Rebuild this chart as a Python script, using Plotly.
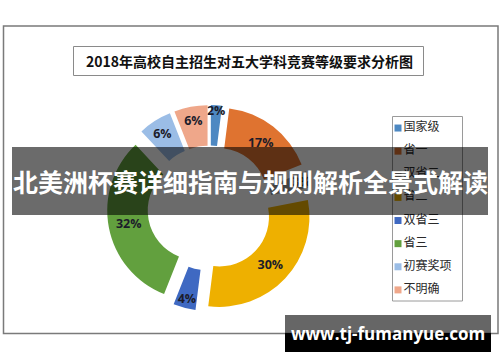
import plotly.graph_objects as go

# ---- data ----
categories = ["国家级", "省一", "双省二", "省二", "双省三", "省三", "初赛奖项", "不明确"]
shares = [2, 17, 3, 30, 4, 32, 6, 6]
colors = ["#4d88c2", "#df7330", "#a0a0a0", "#eeb000", "#3f69c2", "#62a03e", "#9bbde6", "#efa78a"]
chart_title = "2018年高校自主招生对五大学科竞赛等级要求分析图"
banner_text = "北美洲杯赛详细指南与规则解析全景式解读"
watermark = "www.tj-fumanyue.com"

W, H = 500, 362
def px_x(x):
    return x / W
def px_y(y):
    return 1 - y / H

fig = go.Figure()

fig.add_trace(go.Pie(
    labels=categories,
    values=shares,
    sort=False,
    direction="clockwise",
    rotation=0,
    hole=0.55,
    pull=[0.145] * len(shares),
    marker=dict(colors=colors, line=dict(width=0)),
    texttemplate="%{percent:.0%}",
    textposition="inside",
    insidetextorientation="horizontal",
    textfont=dict(family="Open Sans", size=12.5, color="#1c1c2a", weight="bold"),
    showlegend=False,
    hoverinfo="label+percent",
    domain=dict(x=[px_x(107), px_x(313)], y=[px_y(311), px_y(105)]),
))

# legend built as a scatter on hidden axes
legend_idx = list(range(len(categories)))
fig.add_trace(go.Scatter(
    x=[6] * len(categories),
    y=legend_idx,
    mode="markers+text",
    marker=dict(symbol="square", size=7, color=colors),
    text=categories,
    textposition="middle right",
    textfont=dict(family="Noto Sans CJK SC", size=12, color="#2a2a2a"),
    showlegend=False,
    hoverinfo="skip",
    cliponaxis=False,
))

fig.update_layout(
    width=W, height=H,
    margin=dict(l=0, r=0, t=0, b=0),
    paper_bgcolor="white",
    plot_bgcolor="rgba(0,0,0,0)",
    xaxis=dict(domain=[px_x(392), px_x(462)], range=[0, 70], visible=False, fixedrange=True),
    yaxis=dict(domain=[px_y(301), px_y(116)], range=[7.48, -0.52], visible=False, fixedrange=True),
    uniformtext=dict(minsize=12.5, mode="show"),
    shapes=[
        # outer frame
        dict(type="rect", xref="paper", yref="paper", x0=px_x(3.5), x1=px_x(498), y0=px_y(333.5), y1=px_y(26),
             line=dict(color="#7a7a7a", width=1.5), fillcolor="rgba(0,0,0,0)", layer="below"),
        # title box
        dict(type="rect", xref="paper", yref="paper", x0=px_x(73.5), x1=px_x(423.5), y0=px_y(75.5), y1=px_y(46.5),
             line=dict(color="#8a8a8a", width=1), fillcolor="rgba(0,0,0,0)", layer="below"),
        # legend box
        dict(type="rect", xref="paper", yref="paper", x0=px_x(392.5), x1=px_x(462.5), y0=px_y(301), y1=px_y(116.5),
             line=dict(color="#9a9a9a", width=1), fillcolor="rgba(0,0,0,0)", layer="below"),
        # banner
        dict(type="rect", xref="paper", yref="paper", x0=px_x(12), x1=px_x(488), y0=px_y(215), y1=px_y(147),
             line=dict(width=0), fillcolor="rgba(0,0,0,0.58)", layer="above"),
        # watermark boxes
        dict(type="rect", xref="paper", yref="paper", x0=px_x(285), x1=px_x(491), y0=px_y(333), y1=px_y(315),
             line=dict(width=0), fillcolor="rgba(0,0,0,0.6)", layer="above"),
        dict(type="rect", xref="paper", yref="paper", x0=px_x(285), x1=px_x(491), y0=px_y(352), y1=px_y(333),
             line=dict(width=0), fillcolor="#000000", layer="above"),
    ],
    annotations=[
        dict(text=chart_title, xref="paper", yref="paper", x=px_x(249), y=px_y(61),
             xanchor="center", yanchor="middle", showarrow=False,
             font=dict(family="Noto Sans CJK SC", size=14, color="#111111", weight="bold")),
        dict(text=banner_text, xref="paper", yref="paper", x=px_x(250), y=px_y(181),
             xanchor="center", yanchor="middle", showarrow=False,
             font=dict(family="Noto Sans CJK SC", size=25, color="white", weight="bold")),
        dict(text=watermark, xref="paper", yref="paper", x=px_x(388), y=px_y(333),
             xanchor="center", yanchor="middle", showarrow=False,
             font=dict(family="Open Sans", size=17, color="white", weight="bold")),
    ],
)

fig.write_html("out.html", config={"displayModeBar": False},
               post_script="document.body.style.margin='0';document.body.style.padding='0';")
